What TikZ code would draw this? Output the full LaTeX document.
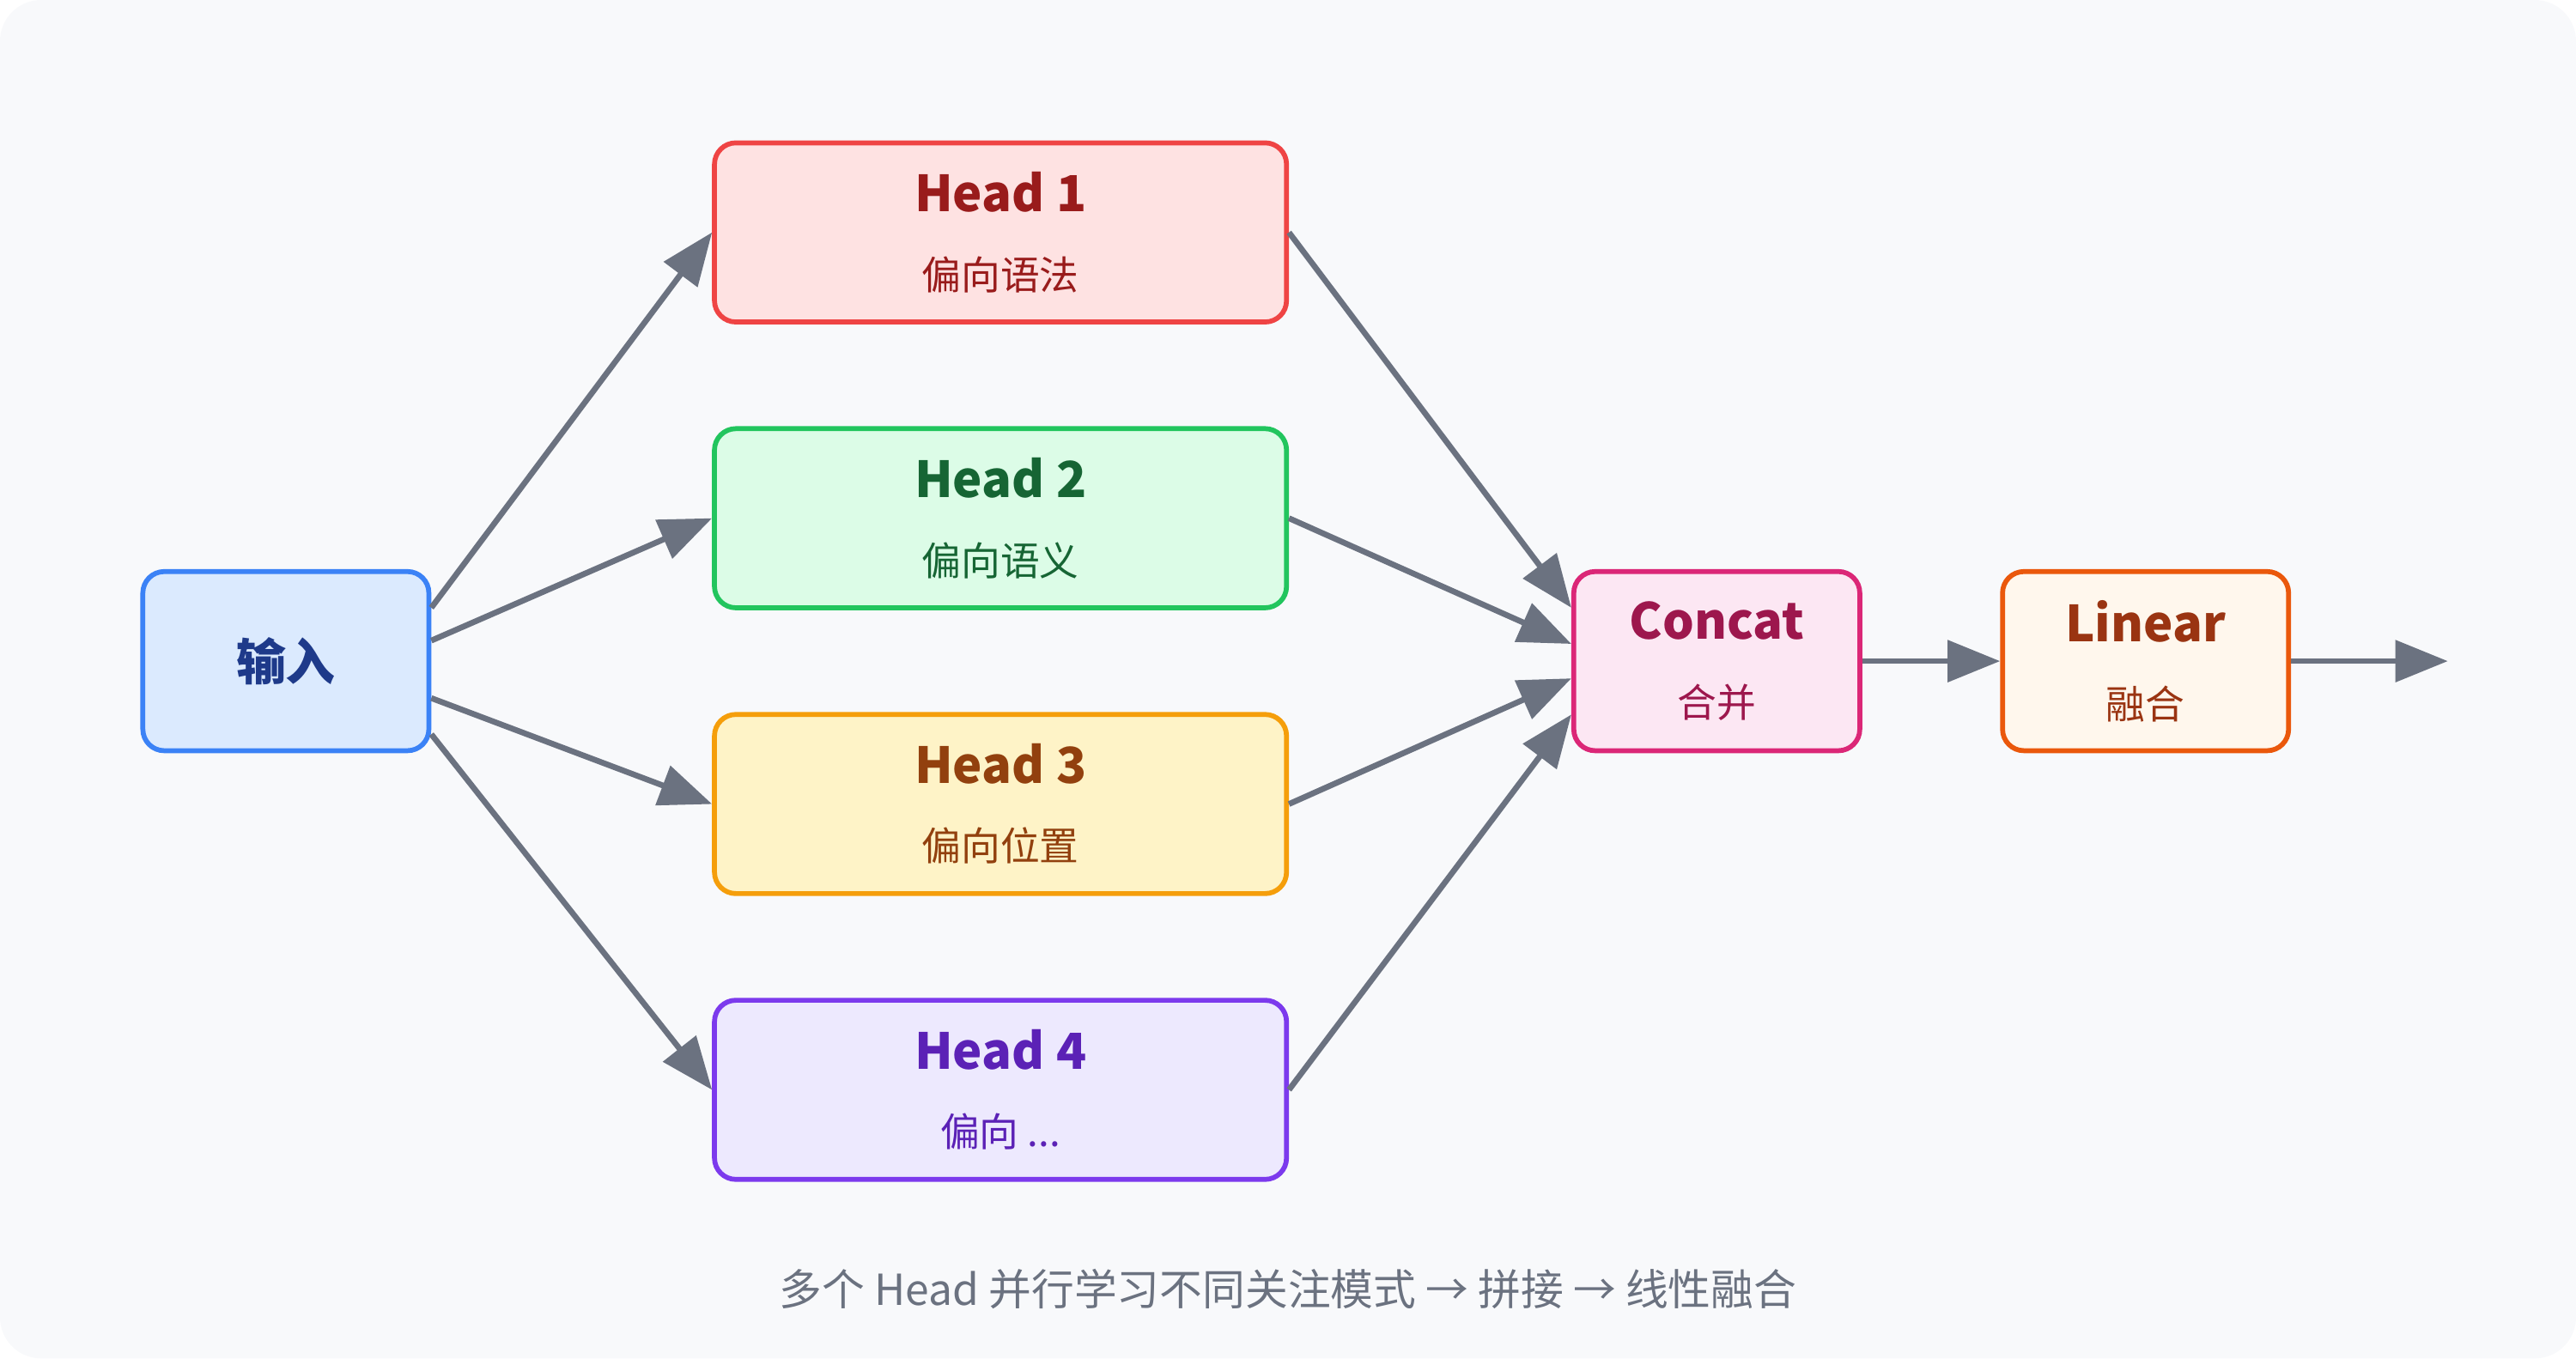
\documentclass[tikz,border=0pt]{standalone}
\usepackage{fontspec}
\setmainfont{Noto Sans CJK SC}
\usetikzlibrary{arrows.meta}
\definecolor{bg}{HTML}{F8F9FB}
\definecolor{arr}{HTML}{6B7280}
\begin{document}
\begin{tikzpicture}
  [x=0.01cm,y=-0.01cm,
   box/.style={draw,rounded corners=1.3mm,line width=0.85pt,minimum height=10.9mm,
               align=center,inner sep=0pt},
   smallB/.style={box,minimum width=17.4mm},
   headB/.style={box,minimum width=34.8mm},
   tt/.style={font=\fontsize{8.6}{10}\selectfont\bfseries},
   sub/.style={font=\fontsize{6.8}{9}\selectfont},
   link/.style={draw=arr,line width=1pt,-{Triangle[length=3.2mm,width=2.5mm]}}]

  \fill[bg,rounded corners=2.5mm] (0,0) rectangle (1568,827);
  \useasboundingbox (0,0) rectangle (1568,827);

  \node[smallB,draw=blue!70!cyan!80!black,fill=blue!12,text=blue!40!black,
        draw={rgb,255:red,59;green,130;blue,246},fill={rgb,255:red,219;green,234;blue,254},
        text={rgb,255:red,30;green,58;blue,138}] (in) at (174,402.5) {\fontsize{8.6}{10}\selectfont\bfseries 输入};

  \node[headB,draw={rgb,255:red,239;green,68;blue,68},fill={rgb,255:red,254;green,226;blue,226},
        text={rgb,255:red,153;green,27;blue,27}] (h1) at (609,141.5)
        {{\fontsize{8.6}{10}\selectfont\bfseries Head 1}\\[0.5mm]{\fontsize{6.8}{9}\selectfont 偏向语法}};
  \node[headB,draw={rgb,255:red,34;green,197;blue,94},fill={rgb,255:red,220;green,252;blue,231},
        text={rgb,255:red,22;green,101;blue,52}] (h2) at (609,315.5)
        {{\fontsize{8.6}{10}\selectfont\bfseries Head 2}\\[0.5mm]{\fontsize{6.8}{9}\selectfont 偏向语义}};
  \node[headB,draw={rgb,255:red,245;green,158;blue,11},fill={rgb,255:red,254;green,243;blue,199},
        text={rgb,255:red,146;green,64;blue,14}] (h3) at (609,489.5)
        {{\fontsize{8.6}{10}\selectfont\bfseries Head 3}\\[0.5mm]{\fontsize{6.8}{9}\selectfont 偏向位置}};
  \node[headB,draw={rgb,255:red,124;green,58;blue,237},fill={rgb,255:red,237;green,233;blue,254},
        text={rgb,255:red,91;green,33;blue,182}] (h4) at (609,663.5)
        {{\fontsize{8.6}{10}\selectfont\bfseries Head 4}\\[0.5mm]{\fontsize{6.8}{9}\selectfont 偏向 ...}};

  \node[smallB,draw={rgb,255:red,219;green,39;blue,119},fill={rgb,255:red,252;green,231;blue,243},
        text={rgb,255:red,157;green,23;blue,77}] (cat) at (1045,402.5)
        {{\fontsize{8.6}{10}\selectfont\bfseries Concat}\\[0.5mm]{\fontsize{6.8}{9}\selectfont 合并}};
  \node[smallB,draw={rgb,255:red,234;green,88;blue,12},fill={rgb,255:red,255;green,247;blue,237},
        text={rgb,255:red,154;green,52;blue,18}] (lin) at (1306,402.5)
        {{\fontsize{8.6}{10}\selectfont\bfseries Linear}\\[0.5mm]{\fontsize{6.8}{9}\selectfont 融合}};
  \coordinate (out) at (1490,402.5);

  \draw[link] ([yshift=3.25mm]in.east)  -- (h1.west);
  \draw[link] ([yshift=1.25mm]in.east)  -- (h2.west);
  \draw[link] ([yshift=-2.25mm]in.east) -- (h3.west);
  \draw[link] ([yshift=-4.45mm]in.east) -- (h4.west);

  \draw[link] (h1.east) -- ([yshift=3.25mm]cat.west);
  \draw[link] (h2.east) -- ([yshift=1.05mm]cat.west);
  \draw[link] (h3.east) -- ([yshift=-1.05mm]cat.west);
  \draw[link] (h4.east) -- ([yshift=-3.25mm]cat.west);

  \draw[link] (cat) -- (lin);
  \draw[link] (lin) -- (out);

  \node[text=arr,font=\fontsize{7.4}{9}\selectfont] (cap) at (784,785)
        {多个 Head 并行学习不同关注模式 → 拼接 → 线性融合};
\end{tikzpicture}
\end{document}
